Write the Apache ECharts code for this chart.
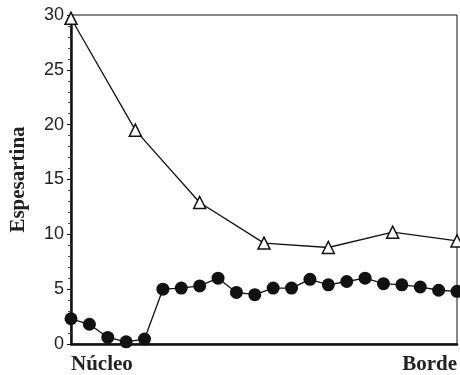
<!DOCTYPE html>
<html>
<head>
<meta charset="utf-8">
<script src="https://cdn.jsdelivr.net/npm/echarts@6/dist/echarts.min.js"></script>
<style>
  html, body { margin: 0; padding: 0; background: #fff; }
  #cht { width: 460px; height: 375px; }
</style>
</head>
<body>
<div id="cht"></div>
<script>
// profile position (0 = núcleo, 21 = borde)
const circleX = [0, 1, 2, 3, 4, 5, 6, 7, 8, 9, 10, 11, 12, 13, 14, 15, 16, 17, 18, 19, 20, 21];
const circleY = [2.3, 1.8, 0.6, 0.2, 0.45, 5.0, 5.1, 5.3, 6.0, 4.7, 4.5, 5.1, 5.1, 5.9, 5.4, 5.7, 6.0, 5.5, 5.4, 5.2, 4.9, 4.8];
const triX = [0, 3.5, 7, 10.5, 14, 17.5, 21];
const triY = [29.7, 19.5, 12.9, 9.2, 8.8, 10.2, 9.4];
const xLabels = ['Núcleo', 'Borde'];

const cht = echarts.init(document.getElementById('cht'));

const pairs = (xs, ys) => xs.map((x, i) => [x, ys[i]]);

const option = {
  animation: false,
  grid: {
    left: 68, right: 3, top: 15, bottom: 30,
    show: true, borderColor: '#111', borderWidth: 1,
  },
  xAxis: {
    type: 'value',
    min: 0, max: 21, interval: 21,
    axisLine: { show: true, onZero: false, lineStyle: { color: '#111', width: 2.5 } },
    axisTick: { show: false },
    splitLine: { show: false },
    axisLabel: {
      formatter: (v) => (v === 0 ? xLabels[0] : xLabels[1]),
      alignMinLabel: 'left',
      alignMaxLabel: 'right',
      margin: 10,
      fontFamily: 'Liberation Serif',
      fontWeight: 'bold',
      fontSize: 21,
      color: '#222',
    },
  },
  yAxis: {
    type: 'value',
    min: 0, max: 30, interval: 5,
    name: 'Espesartina',
    nameLocation: 'middle',
    nameGap: 42,
    nameTextStyle: {
      fontFamily: 'Liberation Serif',
      fontWeight: 'bold',
      fontSize: 21,
      color: '#222',
    },
    axisLine: { show: true, lineStyle: { color: '#111', width: 2.5 } },
    axisTick: { show: true, length: 4, lineStyle: { color: '#111' } },
    minorTick: { show: true, splitNumber: 5, length: 3, lineStyle: { color: '#444' } },
    splitLine: { show: false },
    axisLabel: {
      margin: 7,
      fontFamily: 'Liberation Sans',
      fontSize: 18,
      color: '#222',
    },
  },
  series: [
    {
      type: 'line',
      data: pairs(triX, triY),
      symbol: 'triangle',
      symbolSize: 12,
      lineStyle: { color: '#111', width: 1.3 },
      itemStyle: { color: '#fff', borderColor: '#111', borderWidth: 1.5 },
      z: 3,
    },
    {
      type: 'line',
      data: pairs(circleX, circleY),
      symbol: 'circle',
      symbolSize: 13,
      lineStyle: { color: '#111', width: 1.3 },
      itemStyle: { color: '#111', borderColor: '#111', borderWidth: 0 },
      z: 4,
    },
  ],
};

cht.setOption(option);
</script>
</body>
</html>
